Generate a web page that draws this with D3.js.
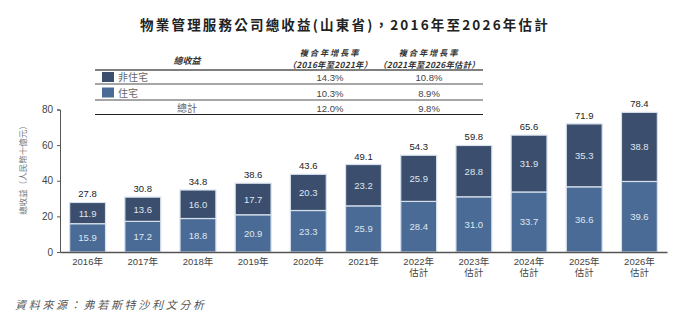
<!DOCTYPE html>
<html>
<head>
<meta charset="utf-8">
<script src="https://cdn.jsdelivr.net/npm/d3@7"></script>
<style>
  html, body { margin: 0; padding: 0; background: #fff; }
  svg { display: block; }
</style>
</head>
<body>
<svg id="chart" width="692" height="324"></svg>
<script>
// Years and forecast flags for the x axis
const years = ["2016年", "2017年", "2018年", "2019年", "2020年", "2021年", "2022年", "2023年", "2024年", "2025年", "2026年"];
const forecast = [false, false, false, false, false, false, true, true, true, true, true];

// Revenue by segment, RMB billion
const residential = [15.9, 17.2, 18.8, 20.9, 23.3, 25.9, 28.4, 31.0, 33.7, 36.6, 39.6];
const nonResidential = [11.9, 13.6, 16.0, 17.7, 20.3, 23.2, 25.9, 28.8, 31.9, 35.3, 38.8];
const totals = [27.8, 30.8, 34.8, 38.6, 43.6, 49.1, 54.3, 59.8, 65.6, 71.9, 78.4];

// CAGR table
const cagrHeaders = [["複合年增長率", "（2016年至2021年）"], ["複合年增長率", "（2021年至2026年估計）"]];
const cagrRows = ["非住宅", "住宅", "總計"];
const cagr1621 = ["14.3%", "10.3%", "12.0%"];
const cagr2126 = ["10.8%", "8.9%", "9.8%"];

const yTicks = [0, 20, 40, 60, 80];

const colorRes = "#4a6b96";
const colorNon = "#3b4e6d";
const font = "'Liberation Sans', Arial, 'Noto Sans CJK TC', sans-serif";
const cjk = "'Noto Sans CJK TC', sans-serif";

const svg = d3.select("#chart");

// Title
svg.append("text")
  .attr("x", 345).attr("y", 30)
  .attr("text-anchor", "middle")
  .style("font-family", cjk)
  .style("font-weight", "bold")
  .style("font-size", "13.5px")
  .style("letter-spacing", "2.2px")
  .attr("fill", "#222")
  .text("物業管理服務公司總收益(山東省)，2016年至2026年估計");

// Scales
const x = d3.scaleBand().domain(years).range([60, 667]).paddingInner(0.35).paddingOuter(0.175);
const y = d3.scaleLinear().domain([0, 80]).range([252, 109.5]);

// Y axis
const yAxis = svg.append("g")
  .attr("transform", "translate(60,0)")
  .call(d3.axisLeft(y).tickValues(yTicks).tickSize(3).tickPadding(4));
yAxis.select(".domain").attr("stroke", "#555");
yAxis.selectAll(".tick line").attr("stroke", "#555");
yAxis.selectAll(".tick text")
  .style("font-family", font).style("font-size", "10px").attr("fill", "#444");

// Y axis title
svg.append("text")
  .attr("transform", "translate(26,168) rotate(-90)")
  .attr("text-anchor", "middle")
  .style("font-family", cjk)
  .style("font-size", "8.5px")
  .attr("fill", "#777")
  .text("總收益（人民幣十億元）");

// Stacked bars
const rows = years.map((yr, i) => ({ year: yr, res: residential[i], non: nonResidential[i], total: totals[i] }));
const stroke = "#d6e0ec";

const g = svg.append("g");
g.selectAll("rect.res").data(rows).join("rect")
  .attr("class", "res")
  .attr("x", d => x(d.year))
  .attr("width", x.bandwidth())
  .attr("y", d => y(d.res))
  .attr("height", d => y(0) - y(d.res))
  .attr("fill", colorRes)
  .attr("stroke", stroke).attr("stroke-width", 1.2);

g.selectAll("rect.non").data(rows).join("rect")
  .attr("class", "non")
  .attr("x", d => x(d.year))
  .attr("width", x.bandwidth())
  .attr("y", d => y(d.res + d.non))
  .attr("height", d => y(d.res) - y(d.res + d.non))
  .attr("fill", colorNon)
  .attr("stroke", stroke).attr("stroke-width", 1.2);

// Segment labels
const labelStyle = sel => sel
  .attr("text-anchor", "middle")
  .style("font-family", font)
  .style("font-size", "9.5px");

g.selectAll("text.res").data(rows).join("text")
  .attr("class", "res")
  .call(labelStyle)
  .attr("x", d => x(d.year) + x.bandwidth() / 2)
  .attr("y", d => (y(0) + y(d.res)) / 2 + 3.5)
  .attr("fill", "#dfe7f1")
  .text(d => d.res.toFixed(1));

g.selectAll("text.non").data(rows).join("text")
  .attr("class", "non")
  .call(labelStyle)
  .attr("x", d => x(d.year) + x.bandwidth() / 2)
  .attr("y", d => (y(d.res) + y(d.res + d.non)) / 2 + 3.5)
  .attr("fill", "#dfe7f1")
  .text(d => d.non.toFixed(1));

g.selectAll("text.total").data(rows).join("text")
  .attr("class", "total")
  .call(labelStyle)
  .attr("x", d => x(d.year) + x.bandwidth() / 2)
  .attr("y", d => y(d.total) - 5)
  .attr("fill", "#222")
  .text(d => d.total.toFixed(1));

// X axis
const xAxis = svg.append("g")
  .attr("transform", "translate(0,252)")
  .call(d3.axisBottom(x).tickSize(0).tickPadding(6));
xAxis.select(".domain").attr("stroke", "#555").attr("stroke-width", 1.3);
xAxis.selectAll(".tick text")
  .style("font-family", font).style("font-size", "9.5px").attr("fill", "#444")
  .each(function (d, i) {
    if (forecast[i]) {
      d3.select(this).append("tspan")
        .attr("x", 0).attr("dy", "1.15em").text("估計");
    }
  });

// CAGR table
const t = svg.append("g");
const tableLeft = 95, tableRight = 483;
const col1 = 330, col2 = 429, labelCol = 187;

t.append("text")
  .attr("x", labelCol).attr("y", 63.5)
  .attr("text-anchor", "middle")
  .style("font-family", cjk)
  .style("font-size", "9px").style("font-style", "italic").style("font-weight", "bold")
  .attr("fill", "#333")
  .text("總收益");

[col1, col2].forEach((cx, j) => {
  cagrHeaders[j].forEach((line, k) => {
    t.append("text")
      .attr("x", cx).attr("y", 55.5 + k * 12)
      .attr("text-anchor", "middle")
      .style("font-family", cjk)
      .style("font-size", "8.3px").style("font-style", "italic").style("font-weight", "bold")
      .style("letter-spacing", k === 0 ? "1.8px" : "0.3px")
      .attr("fill", "#333")
      .text(line);
  });
});

const rowY = [77.5, 93, 108];
const lineY = [70, 84, 100];
lineY.forEach((ly, i) => {
  t.append("line")
    .attr("x1", tableLeft).attr("x2", tableRight)
    .attr("y1", ly).attr("y2", ly)
    .attr("stroke", i === 0 ? "#555" : "#888").attr("stroke-width", 1.6);
});
t.append("line")
  .attr("x1", tableLeft).attr("x2", tableRight)
  .attr("y1", 114.5).attr("y2", 114.5)
  .attr("stroke", "#222").attr("stroke-width", 1);

const swatches = [colorNon, colorRes];
cagrRows.forEach((name, i) => {
  if (i < 2) {
    t.append("rect")
      .attr("x", 102).attr("y", rowY[i] - 5.5)
      .attr("width", 12).attr("height", 10)
      .attr("fill", swatches[i]);
    t.append("text")
      .attr("x", 118).attr("y", rowY[i] + 3.5)
      .style("font-family", cjk)
      .style("font-size", "10px").attr("fill", "#666")
      .text(name);
  } else {
    t.append("text")
      .attr("x", labelCol).attr("y", rowY[i] + 3.5)
      .attr("text-anchor", "middle")
      .style("font-family", cjk)
      .style("font-size", "10px").attr("fill", "#666")
      .text(name);
  }
  t.append("text")
    .attr("x", col1).attr("y", rowY[i] + 3.5)
    .attr("text-anchor", "middle")
    .style("font-family", font).style("font-size", "9.5px").attr("fill", "#444")
    .text(cagr1621[i]);
  t.append("text")
    .attr("x", col2).attr("y", rowY[i] + 3.5)
    .attr("text-anchor", "middle")
    .style("font-family", font).style("font-size", "9.5px").attr("fill", "#444")
    .text(cagr2126[i]);
});

// Source note
svg.append("text")
  .attr("x", 15).attr("y", 309)
  .style("font-family", cjk)
  .style("font-size", "11px").style("font-style", "italic")
  .style("letter-spacing", "2.7px")
  .attr("fill", "#555")
  .text("資料來源：弗若斯特沙利文分析");
</script>
</body>
</html>
